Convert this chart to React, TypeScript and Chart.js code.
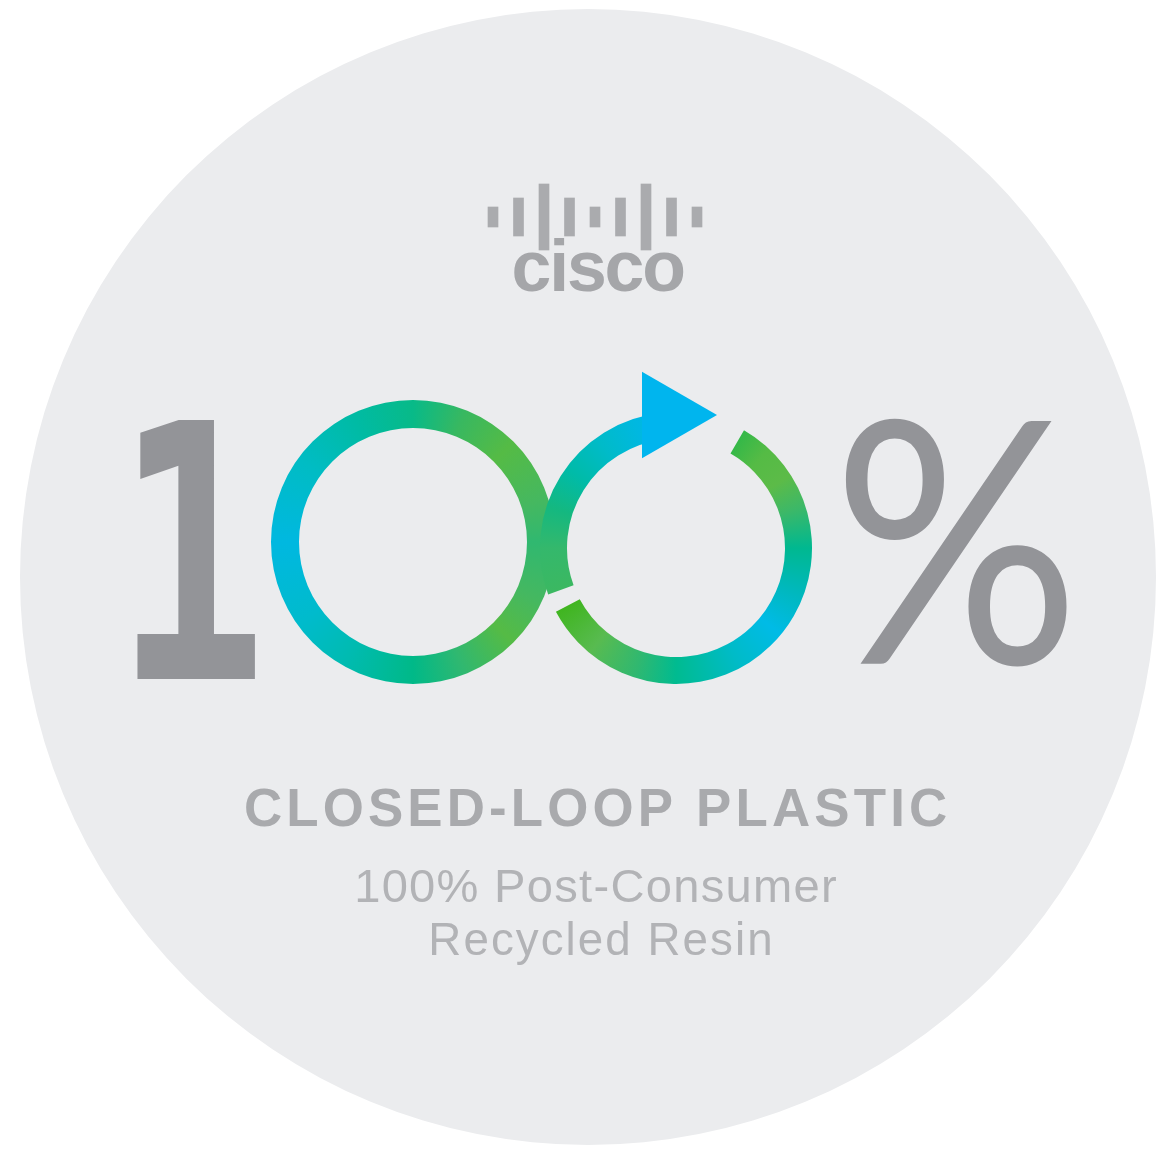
import React, { useEffect, useRef } from 'react';
import { Chart, registerables } from 'chart.js';

Chart.register(...registerables);

// ---------------- data ----------------
// badge backdrop (single full slice)
const backdropLabels = ['badge'];
const backdropValues = [1];

// first "0" of the loop: one closed stroke (degrees of arc)
const ring1Labels = ['loop'];
const ring1Arcs = [360];

// second "0": upper stroke (ends in the arrow), gap, lower stroke, gap
const ring2Labels = ['upper stroke', 'gap', 'lower stroke', 'gap'];
const ring2Arcs = [104, 36, 212, 8];
const ring2StartDeg = 250;

// cisco "bridge" bars (page units: x centre, top, bottom)
const ciscoBarX = [493, 518.5, 544, 569.5, 595, 620.5, 646, 671.5, 697];
const ciscoBarTop = [207, 198, 184, 198, 207, 198, 184, 198, 207];
const ciscoBarBottom = [227, 236, 250, 236, 227, 236, 250, 236, 227];

// arrow head on the second loop (page units)
const arrowX = [667];
const arrowY = [415];

// texts
const textLines = ['cisco', '1', '%', 'CLOSED-LOOP PLASTIC', '100% Post-Consumer', 'Recycled Resin'];

// ---------------- styles / layout ----------------
const W = 1173;
const H = 1156;
const BADGE = '#ebecee';

const ring1Stops: [number, string][] = [
  [0.0, '#08ba88'],
  [0.06, '#38b860'],
  [0.125, '#55bb45'],
  [0.2, '#45b860'],
  [0.25, '#30b870'],
  [0.32, '#45b860'],
  [0.375, '#55bb45'],
  [0.44, '#30b870'],
  [0.5, '#00b988'],
  [0.58, '#00bbb0'],
  [0.65, '#00bbcc'],
  [0.75, '#00b8e0'],
  [0.85, '#00bcc4'],
  [0.93, '#00bba4'],
  [1.0, '#08ba88'],
];

const ring2Stops: [number, string][] = [
  [0.0, '#00b5ee'],
  [0.04, '#00b5ee'],
  [0.083, '#34b848'],
  [0.12, '#55bb45'],
  [0.16, '#5cbb48'],
  [0.2, '#3cb868'],
  [0.25, '#00b890'],
  [0.31, '#00b8c0'],
  [0.36, '#00bbe6'],
  [0.42, '#00bbc8'],
  [0.5, '#00bb90'],
  [0.55, '#30b870'],
  [0.61, '#58bb50'],
  [0.672, '#40b520'],
  [0.689, '#3cb860'],
  [0.75, '#34b86c'],
  [0.8, '#14b880'],
  [0.85, '#00bba8'],
  [0.9, '#00bbc8'],
  [0.95, '#00b8e0'],
  [1.0, '#00b5ee'],
];

type TextStyle = {
  font: string;
  color: string;
  box: [number, number, number, number];
  mode: 'stretch' | 'spaced';
  ref?: string;
};

const textStyles: TextStyle[] = [
  { font: 'bold 60px "Liberation Sans"', color: '#a5a6a9', box: [514, 254, 684, 291], mode: 'spaced', ref: 'x' },
  { font: 'bold 300px "DejaVu Sans Mono"', color: '#939498', box: [134, 418, 257, 679], mode: 'stretch' },
  { font: '300px Lato', color: '#939498', box: [842, 415, 1069, 669], mode: 'stretch' },
  { font: 'bold 50px "Liberation Sans"', color: '#a9aaad', box: [246, 789, 946, 826], mode: 'spaced', ref: 'H' },
  { font: '50px "Liberation Sans"', color: '#b2b3b6', box: [357, 869, 836, 902], mode: 'spaced', ref: 'H' },
  { font: '50px "Liberation Sans"', color: '#b2b3b6', box: [432, 923, 770, 955], mode: 'spaced', ref: 'H' },
];

function drawText(ctx: CanvasRenderingContext2D, text: string, s: TextStyle) {
  const [l, t, r, b] = s.box;
  ctx.save();
  ctx.font = s.font;
  ctx.fillStyle = s.color;
  ctx.textAlign = 'left';
  ctx.textBaseline = 'alphabetic';
  if (s.mode === 'stretch') {
    const m = ctx.measureText(text);
    const inkW = m.actualBoundingBoxLeft + m.actualBoundingBoxRight;
    const inkH = m.actualBoundingBoxAscent + m.actualBoundingBoxDescent;
    const sx = (r - l) / inkW;
    const sy = (b - t) / inkH;
    ctx.translate(l, t);
    ctx.scale(sx, sy);
    ctx.fillText(text, m.actualBoundingBoxLeft, m.actualBoundingBoxAscent);
  } else {
    const refM = ctx.measureText(s.ref || 'H');
    const k = (b - t) / refM.actualBoundingBoxAscent;
    const chars = Array.from(text);
    const adv = chars.map((c) => ctx.measureText(c).width);
    const first = ctx.measureText(chars[0]);
    const last = ctx.measureText(chars[chars.length - 1]);
    const before = adv.slice(0, -1).reduce((a, v) => a + v, 0);
    const natural = first.actualBoundingBoxLeft + before + last.actualBoundingBoxRight;
    const gaps = chars.length - 1;
    const sp = gaps > 0 ? ((r - l) / k - natural) / gaps : 0;
    ctx.translate(l, b);
    ctx.scale(k, k);
    let x = first.actualBoundingBoxLeft;
    chars.forEach((c, i) => {
      ctx.fillText(c, x, 0);
      x += adv[i] + sp;
    });
  }
  ctx.restore();
}

function conic(stops: [number, string][]) {
  return (c: any) => {
    const chart = c.chart;
    const a = chart.chartArea;
    if (!a) return stops[0][1];
    const g = chart.ctx.createConicGradient(-Math.PI / 2, (a.left + a.right) / 2, (a.top + a.bottom) / 2);
    stops.forEach(([o, col]) => g.addColorStop(o, col));
    return g;
  };
}

const quiet = {
  animation: false as const,
  responsive: false,
  events: [] as any[],
  plugins: { legend: { display: false }, tooltip: { enabled: false } },
};

export default function App() {
  const bgRef = useRef<HTMLCanvasElement>(null);
  const r1Ref = useRef<HTMLCanvasElement>(null);
  const r2Ref = useRef<HTMLCanvasElement>(null);
  const topRef = useRef<HTMLCanvasElement>(null);

  useEffect(() => {
    document.body.style.margin = '0';
    document.body.style.overflow = 'hidden';
    const charts: Chart[] = [];

    charts.push(
      new Chart(bgRef.current!, {
        type: 'pie',
        data: {
          labels: backdropLabels,
          datasets: [{ data: backdropValues, backgroundColor: BADGE, borderWidth: 0 }],
        },
        options: { ...quiet, layout: { padding: { left: 20, right: 17, top: 9, bottom: 11 } } } as any,
      })
    );

    charts.push(
      new Chart(r1Ref.current!, {
        type: 'doughnut',
        data: {
          labels: ring1Labels,
          datasets: [{ data: ring1Arcs, backgroundColor: conic(ring1Stops) as any, borderWidth: 0 }],
        },
        options: { ...quiet, cutout: 114, layout: { padding: 0 } } as any,
      })
    );

    const ring2Fill = conic(ring2Stops);
    charts.push(
      new Chart(r2Ref.current!, {
        type: 'doughnut',
        data: {
          labels: ring2Labels,
          datasets: [
            {
              data: ring2Arcs,
              backgroundColor: ((c: any) => (c.dataIndex % 2 === 0 ? ring2Fill(c) : 'rgba(0,0,0,0)')) as any,
              borderWidth: 0,
            },
          ],
        },
        options: { ...quiet, cutout: 109, rotation: ring2StartDeg, layout: { padding: 0 } } as any,
      })
    );

    const textPlugin = {
      id: 'badgeText',
      afterDatasetsDraw(chart: any) {
        const ctx = chart.ctx as CanvasRenderingContext2D;
        textLines.forEach((t, i) => drawText(ctx, t, textStyles[i]));
      },
    };

    charts.push(
      new Chart(topRef.current!, {
        type: 'scatter',
        data: {
          datasets: [
            {
              type: 'bar',
              label: 'cisco bars',
              data: ciscoBarX.map((x, i) => ({ x, y: [ciscoBarTop[i], ciscoBarBottom[i]] })),
              backgroundColor: '#aaabae',
              borderWidth: 0,
              barThickness: 10,
            } as any,
            {
              type: 'scatter',
              label: 'arrow',
              data: arrowX.map((x, i) => ({ x, y: arrowY[i] })),
              pointStyle: 'triangle',
              pointRotation: 90,
              pointRadius: 50,
              pointBackgroundColor: '#00b5ee',
              backgroundColor: '#00b5ee',
              pointBorderWidth: 0,
              borderWidth: 0,
              clip: false,
            } as any,
          ],
        },
        options: {
          ...quiet,
          layout: { padding: 0, autoPadding: false },
          scales: {
            x: { type: 'linear', min: 0, max: W, display: false, offset: false, grid: { offset: false } },
            y: { type: 'linear', min: 0, max: H, reverse: true, display: false, offset: false, beginAtZero: false },
          },
        } as any,
        plugins: [textPlugin],
      })
    );

    let alive = true;
    const fonts = (document as any).fonts;
    if (fonts && fonts.ready) {
      fonts.ready.then(() => {
        if (alive) charts.forEach((c) => c.update());
      });
    }
    return () => {
      alive = false;
      charts.forEach((c) => c.destroy());
    };
  }, []);

  const abs = (left: number, top: number): React.CSSProperties => ({ position: 'absolute', left, top });

  return (
    <div style={{ position: 'relative', width: W, height: H, background: '#ffffff', overflow: 'hidden' }}>
      <canvas ref={bgRef} width={W} height={H} style={abs(0, 0)} />
      <canvas ref={r1Ref} width={284} height={284} style={abs(271, 400)} />
      <canvas ref={r2Ref} width={272} height={272} style={abs(540, 412)} />
      <canvas ref={topRef} width={W} height={H} style={abs(0, 0)} />
    </div>
  );
}
